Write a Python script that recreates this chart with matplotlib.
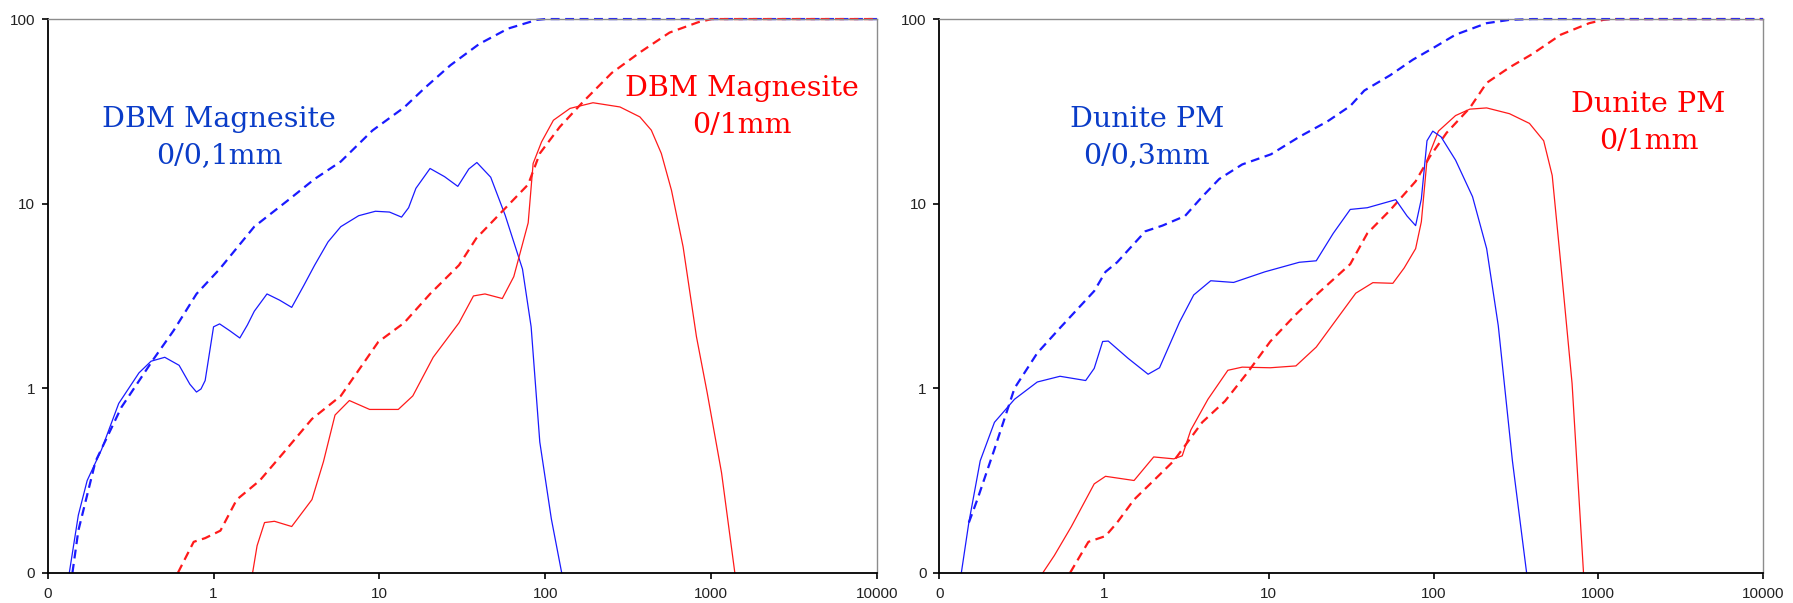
import numpy as np
import matplotlib.pyplot as plt

# "0" on both log axes is drawn at 0.1
FLOOR = 0.1

# DBM Magnesite 0/0,1mm - frequency (solid) and cumulative (dashed)
dbm01_x = [0.135, 0.153, 0.173, 0.211, 0.268, 0.355, 0.42, 0.508, 0.62, 0.72, 0.789, 0.84, 0.89, 0.95, 1.0, 1.088,
           1.25, 1.44, 1.6, 1.76, 2.1, 2.5, 2.96, 3.5, 4.07, 4.9, 5.85, 7.5, 9.46, 11.5, 13.6, 15.0, 16.6, 20.2, 24.7, 29.7, 34.6, 38.7,
           46.9, 57.3, 72.9, 82.2, 92.7, 108.8, 125.6]
dbm01_y = [0, 0.205, 0.316, 0.464, 0.826, 1.21, 1.4, 1.47, 1.33, 1.05, 0.953, 0.99, 1.1, 1.6, 2.15, 2.23,
           2.05, 1.87, 2.2, 2.61, 3.24, 3.0, 2.74, 3.6, 4.64, 6.2, 7.5, 8.6, 9.09, 9.0, 8.45, 9.5, 12.1, 15.5, 14.0, 12.4, 15.4, 16.7,
           13.9, 8.66, 4.42, 2.15, 0.511, 0.196, 0]
dbm01_cx = [0.141, 0.153, 0.194, 0.278, 0.433, 0.574, 0.789, 1.088, 1.76, 2.84, 4.07, 5.85,
            9.08, 14.1, 18.7, 26.8, 40, 59.7, 89, 100, 1000, 10000]
dbm01_cy = [0, 0.169, 0.40, 0.787, 1.43, 2.05, 3.24, 4.42, 7.5, 10.5, 13.6, 16.9,
            24.9, 33.2, 42.2, 56.2, 73.3, 88.8, 99, 100, 100, 100]

# DBM Magnesite 0/1mm
dbm1_x = [1.72, 1.83, 2.03, 2.33, 2.96, 3.92, 4.6, 5.4, 6.59, 8.73, 13.0, 15.9, 21.1, 30.2,
          36.9, 43.3, 55.1, 64.6, 78.9, 84.5, 95, 112, 141, 194, 282, 372, 436, 501, 577, 678, 816, 946, 1156, 1390]
dbm1_y = [0, 0.14, 0.187, 0.19, 0.178, 0.249, 0.40, 0.715, 0.857, 0.767, 0.767, 0.908, 1.47, 2.26,
          3.16, 3.24, 3.06, 4.02, 7.87, 16.5, 21.6, 28.3, 32.8, 35.2, 33.4, 29.5, 25, 18.7, 11.8, 5.83, 1.9, 0.95, 0.348, 0]
dbm1_cx = [0.61, 0.759, 0.89, 1.1, 1.38, 1.9, 2.62, 3.92, 5.85, 9.84, 14.1, 20.2, 30.2, 38.4,
           55.1, 78.9, 92.7, 122.6, 169, 252, 377, 562, 838, 1010, 10000]
dbm1_cy = [0, 0.147, 0.154, 0.169, 0.249, 0.316, 0.443, 0.681, 0.908, 1.78, 2.26, 3.24, 4.64, 6.49,
           9.09, 12.7, 18.7, 26.1, 35.6, 51.1, 66.5, 84.5, 96.2, 100, 100]

# Dunite PM 0/0,3mm
dun03_x = [0.136, 0.151, 0.177, 0.216, 0.286, 0.393, 0.54, 0.773, 0.871, 0.98, 1.06, 1.4, 1.85,
           2.17, 2.87, 3.5, 4.44, 6.11, 9.46, 15.3, 19.4, 24.6, 31.2, 39.6, 58.9, 69, 77.8, 84.3,
           91.2, 98.9, 111, 136, 172.4, 210, 247, 301, 367]
dun03_y = [0, 0.187, 0.404, 0.653, 0.871, 1.08, 1.16, 1.1, 1.28, 1.79, 1.8, 1.45, 1.19,
           1.29, 2.28, 3.2, 3.82, 3.74, 4.27, 4.81, 4.9, 6.9, 9.3, 9.5, 10.5, 8.57, 7.6, 10.6,
           21.9, 24.7, 23, 17.2, 10.9, 5.7, 2.18, 0.404, 0]
dun03_cx = [0.151, 0.17, 0.216, 0.286, 0.393, 0.54, 0.871, 1.02, 1.2, 1.78, 2.26, 3.1, 3.94, 5.0,
            6.89, 10.3, 15.3, 22.7, 31.2, 38, 54.5, 74.8, 98.9, 136, 210, 289, 398, 10000]
dun03_cy = [0.187, 0.249, 0.467, 1.0, 1.55, 2.12, 3.36, 4.27, 4.81, 7.08, 7.6, 8.57, 10.9, 13.6,
            16.3, 18.5, 23, 27.9, 33.8, 41, 49.6, 60.2, 69.5, 82.3, 95, 99, 100, 100]

# Dunite PM 0/1mm
dun1_x = [0.425, 0.499, 0.633, 0.871, 1.02, 1.52, 2.0, 2.65, 2.98, 3.36, 4.27, 5.64, 6.89, 10.2,
          14.6, 19.4, 24.6, 33.7, 42.8, 56.6, 66.3, 77.8, 84.3, 91.2, 107, 136, 166, 210, 289,
          382, 466, 525, 592, 693, 813]
dun1_y = [0, 0.124, 0.178, 0.303, 0.333, 0.316, 0.424, 0.414, 0.43, 0.593, 0.871, 1.25, 1.3, 1.29,
          1.32, 1.67, 2.23, 3.27, 3.73, 3.7, 4.48, 5.7, 7.98, 17.2, 24.7, 30, 32.5, 33, 30.7,
          27.2, 21.9, 14.2, 4.7, 1.06, 0]
dun1_cx = [0.622, 0.803, 1.02, 1.2, 1.52, 2.0, 2.65, 3.94, 5.42, 7.45, 10.2, 14.6, 19.4, 31.2,
           39.6, 54.5, 77.8, 95, 120, 166, 210, 289, 398, 592, 881, 1074, 1200, 10000]
dun1_cy = [0, 0.147, 0.158, 0.187, 0.249, 0.316, 0.404, 0.653, 0.851, 1.22, 1.79, 2.51, 3.2, 4.7,
           6.9, 9.22, 13.2, 18, 24.2, 33, 45.1, 54.7, 64.7, 82.3, 95, 99, 100, 100]

ticks = [0.1, 1, 10, 100, 1000, 10000]
tick_labels = ['0', '1', '10', '100', '1000', '10000']

BLUE = '#1a1aff'
RED = '#ff1a1a'


def fl(v):
    v = np.asarray(v, dtype=float)
    return np.where(v <= 0, FLOOR, v)


def style_axes(ax):
    ax.set_xscale('log')
    ax.set_yscale('log')
    ax.set_xlim(0.1, 10000)
    ax.set_ylim(0.1, 100)
    ax.set_xticks(ticks)
    ax.set_xticklabels(tick_labels)
    ax.set_yticks(ticks[:4])
    ax.set_yticklabels(tick_labels[:4])
    ax.minorticks_off()
    ax.tick_params(axis='both', labelsize=11, length=4, width=1.2, color='black',
                   labelcolor='#222222')
    ax.tick_params(axis='y', pad=5)
    ax.tick_params(axis='x', pad=6)
    for s in ['left', 'bottom']:
        ax.spines[s].set_color('black')
        ax.spines[s].set_linewidth(1.3)
    for s in ['top', 'right']:
        ax.spines[s].set_color('#8c8c8c')
        ax.spines[s].set_linewidth(1.0)
    for lab in ax.get_xticklabels() + ax.get_yticklabels():
        lab.set_family(['Liberation Sans', 'DejaVu Sans'])


plt.rcParams['font.family'] = ['DejaVu Sans']
fig = plt.figure(figsize=(17.93, 6.03), dpi=100)
ax1 = fig.add_axes([0.0266, 0.0502, 0.4625, 0.9182])
ax2 = fig.add_axes([0.5239, 0.0502, 0.4594, 0.9182])

dash = (4, 2.5)

# left panel
ax1.plot(dbm01_x, fl(dbm01_y), color=BLUE, lw=0.9, clip_on=False)
ax1.plot(dbm01_cx, fl(dbm01_cy), color=BLUE, lw=1.6, dashes=dash, clip_on=False)
ax1.plot(dbm1_x, fl(dbm1_y), color=RED, lw=0.9, clip_on=False)
ax1.plot(dbm1_cx, fl(dbm1_cy), color=RED, lw=1.6, dashes=dash, clip_on=False)
style_axes(ax1)
ax1.text(0.2066, 0.786, 'DBM Magnesite\n0/0,1mm', transform=ax1.transAxes, ha='center',
         va='center', fontsize=20.5, family='DejaVu Serif', color='#0a3cc8', linespacing=1.45)
ax1.text(0.837, 0.8414, 'DBM Magnesite\n0/1mm', transform=ax1.transAxes, ha='center',
         va='center', fontsize=20.5, family='DejaVu Serif', color='#ff0000', linespacing=1.45)

# right panel
ax2.plot(dun1_x, fl(dun1_y), color=RED, lw=0.9, clip_on=False)
ax2.plot(dun1_cx, fl(dun1_cy), color=RED, lw=1.6, dashes=dash, clip_on=False)
ax2.plot(dun03_x, fl(dun03_y), color=BLUE, lw=0.9, clip_on=False)
ax2.plot(dun03_cx, fl(dun03_cy), color=BLUE, lw=1.6, dashes=dash, clip_on=False)
style_axes(ax2)
ax2.text(0.252, 0.7863, 'Dunite PM\n0/0,3mm', transform=ax2.transAxes, ha='center',
         va='center', fontsize=20.5, family='DejaVu Serif', color='#0a3cc8', linespacing=1.45)
ax2.text(0.861, 0.8125, 'Dunite PM\n0/1mm', transform=ax2.transAxes, ha='center',
         va='center', fontsize=20.5, family='DejaVu Serif', color='#ff0000', linespacing=1.45)

fig.savefig('out.png', dpi=100)
